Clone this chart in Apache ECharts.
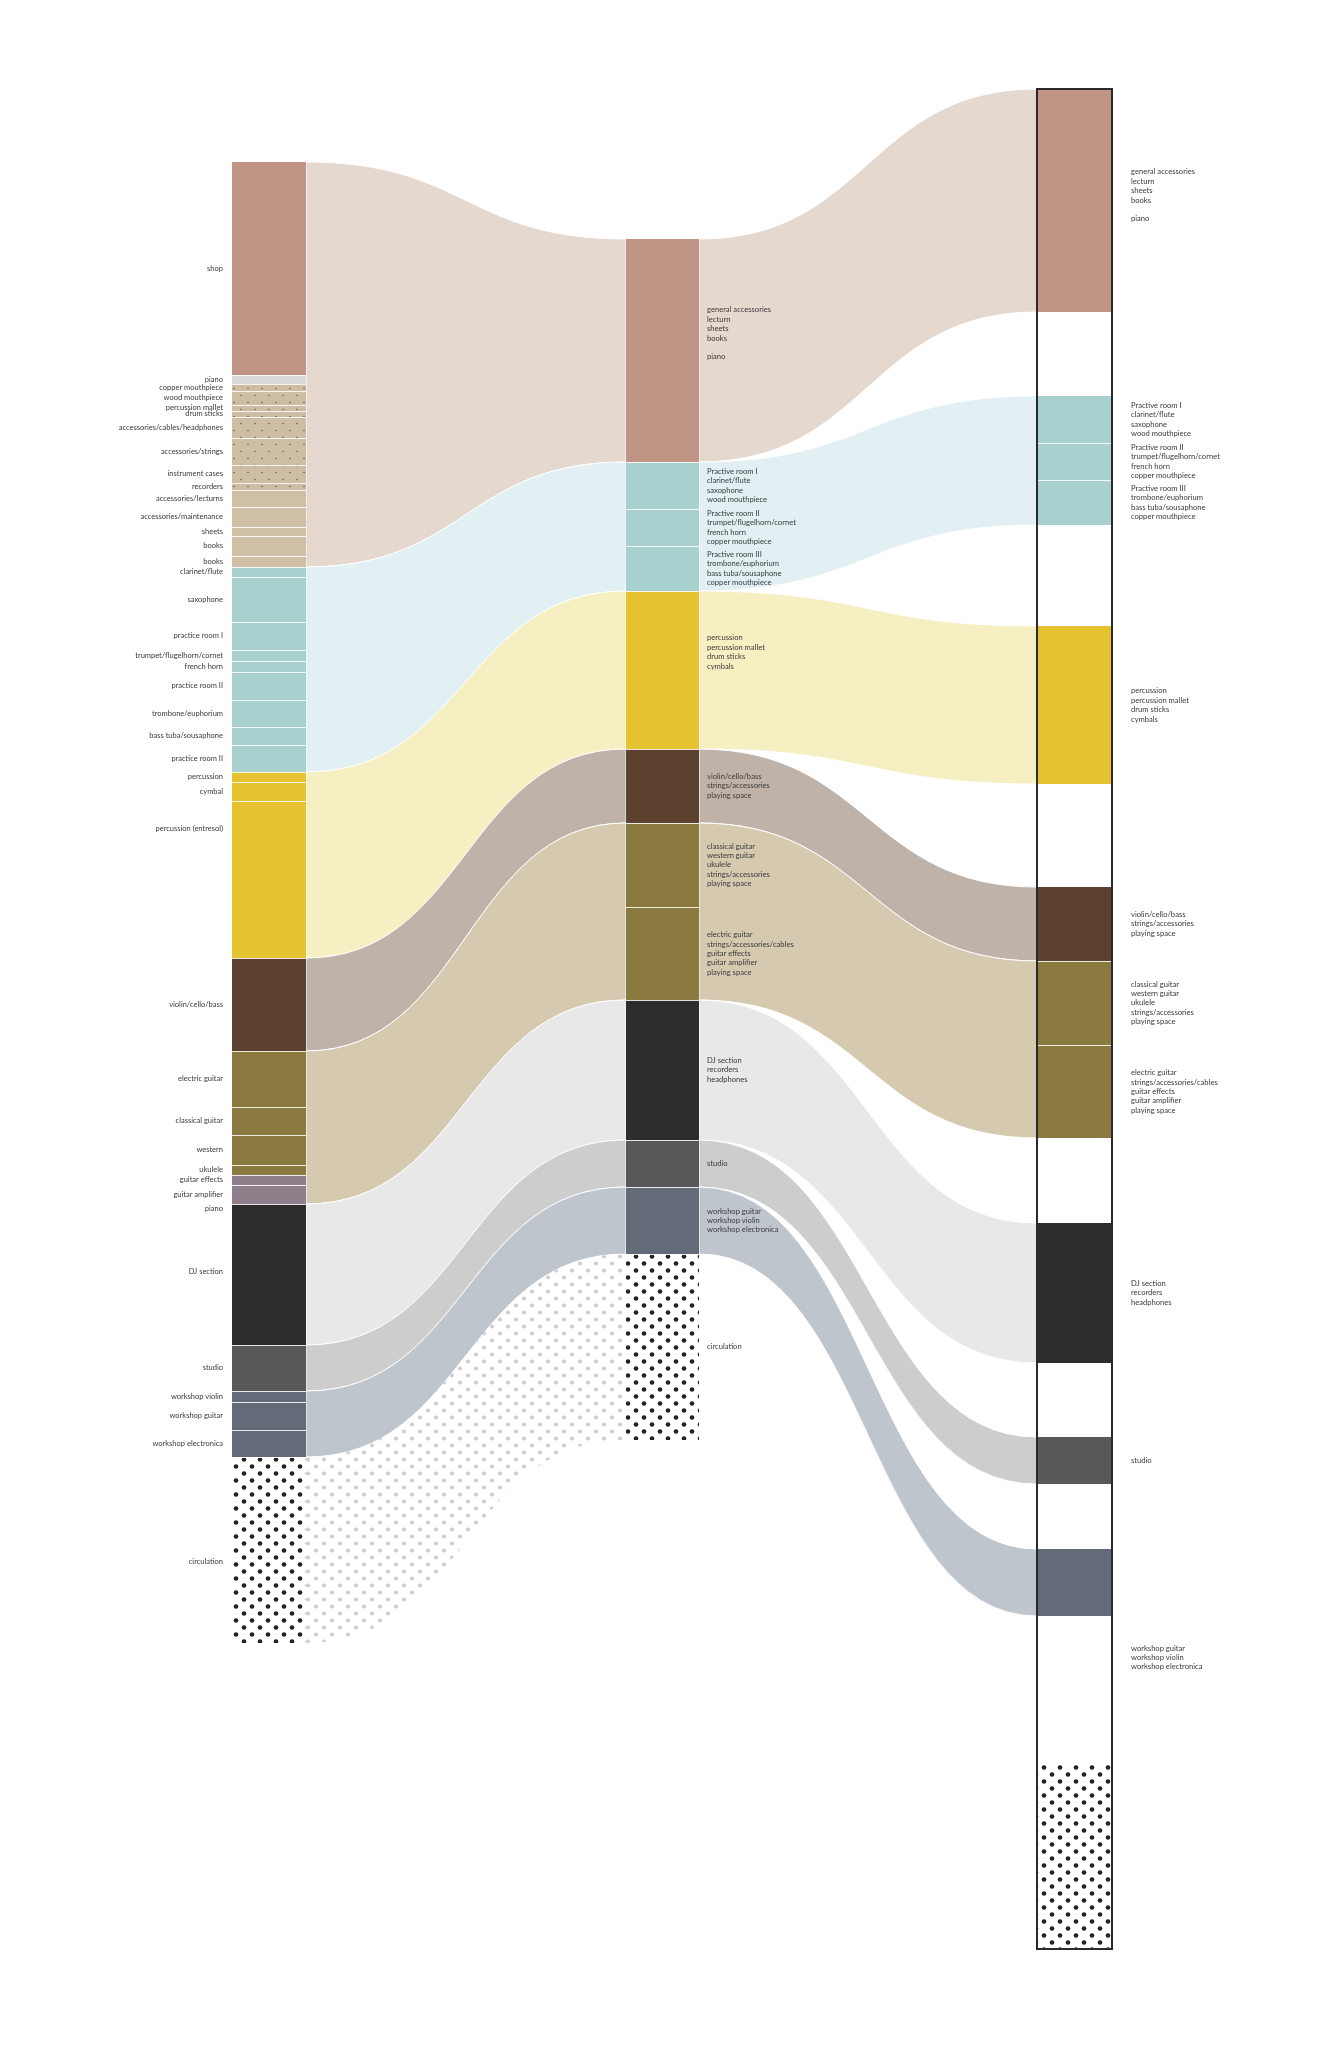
<!DOCTYPE html>
<html><head><meta charset="utf-8">
<script src="https://cdn.jsdelivr.net/npm/echarts/dist/echarts.min.js"></script>
<style>html,body{margin:0;padding:0;background:#fff}#c{width:1324px;height:2048px}</style>
</head><body><div id="c"></div>
<script>
// ---------------- DATA ----------------
const groupNames = ['shop','practice rooms','percussion','strings','guitar','DJ','studio','workshop','circulation'];

const leftNames = ['shop','piano','copper mouthpiece','wood mouthpiece','percussion mallet','drum sticks',
  'accessories/cables/headphones','accessories/strings','instrument cases','recorders','accessories/lecturns',
  'accessories/maintenance','sheets','books','books',
  'clarinet/flute','saxophone','practice room I','trumpet/flugelhorn/cornet','french horn','practice room II',
  'trombone/euphorium','bass tuba/sousaphone','practice room II',
  'percussion','cymbal','percussion (entresol)',
  'violin/cello/bass',
  'electric guitar','classical guitar','western','ukulele','guitar effects','guitar amplifier',
  'piano','DJ section',
  'studio',
  'workshop violin','workshop guitar','workshop electronica',
  'circulation'];
const leftValues = [213,9,7,14,6,6,21,27,18,7,17,20,9,20,11,
  10,45,28,11,11,28,27,18,27,
  10,19,157,
  93,
  56,28,30,10,10,19,
  9,132,
  46,
  11,28,27,
  186];
const leftGroupOf = [0,0,0,0,0,0,0,0,0,0,0,0,0,0,0,
  1,1,1,1,1,1,1,1,1,
  2,2,2,
  3,
  4,4,4,4,4,4,
  5,5,
  6,
  7,7,7,
  8];
const leftKinds = ['shop','piano','beigeDot','beigeDot','beigeDot','beigeDot','beigeDot','beigeDot','beigeDot','beigeDot',
  'beige','beige','beige','beige','beige',
  'teal','teal','teal','teal','teal','teal','teal','teal','teal',
  'yellow','yellow','yellow',
  'violin',
  'olive','olive','olive','olive','mauve','mauve',
  'dj','dj',
  'studio',
  'workshop','workshop','workshop',
  'circ'];

const midNames = [
  'general accessories\nlecturn\nsheets\nbooks\n\npiano',
  'Practive room I\nclarinet/flute\nsaxophone\nwood mouthpiece',
  'Practive room II\ntrumpet/flugelhorn/cornet\nfrench horn\ncopper mouthpiece',
  'Practive room III\ntrombone/euphorium\nbass tuba/sousaphone\ncopper mouthpiece',
  'percussion\npercussion mallet\ndrum sticks\ncymbals',
  'violin/cello/bass\nstrings/accessories\nplaying space',
  'classical guitar\nwestern guitar\nukulele\nstrings/accessories\nplaying space',
  'electric guitar\nstrings/accessories/cables\nguitar effects\nguitar amplifier\nplaying space',
  'DJ section\nrecorders\nheadphones',
  'studio',
  'workshop guitar\nworkshop violin\nworkshop electronica',
  'circulation'];
const midValues = [223,47,37,45,158,74,84,93,140,47,67,186];
const midGroupOf = [0,1,1,1,2,3,4,4,5,6,7,8];
const midKinds = ['shop','teal','teal','teal','yellow','violin','olive','olive','dj','studio','workshop','circ'];

const rightNames = [
  'general accessories\nlecturn\nsheets\nbooks\n\npiano',
  'Practive room I\nclarinet/flute\nsaxophone\nwood mouthpiece',
  'Practive room II\ntrumpet/flugelhorn/cornet\nfrench horn\ncopper mouthpiece',
  'Practive room III\ntrombone/euphorium\nbass tuba/sousaphone\ncopper mouthpiece',
  'percussion\npercussion mallet\ndrum sticks\ncymbals',
  'violin/cello/bass\nstrings/accessories\nplaying space',
  'classical guitar\nwestern guitar\nukulele\nstrings/accessories\nplaying space',
  'electric guitar\nstrings/accessories/cables\nguitar effects\nguitar amplifier\nplaying space',
  'DJ section\nrecorders\nheadphones',
  'studio',
  'workshop guitar\nworkshop violin\nworkshop electronica',
  ''];
const rightGapBefore = [0,84,101,103,0,85,74,65,147];   // empty space before each group in the right column
const linkedToRight = [1,1,1,1,1,1,1,1,0];

// ---------------- LAYOUT / STYLE ----------------
const L = {
  leftX: [232, 306], midX: [626, 699], rightX: [1037, 1112],
  leftTop: 162, midTop: 239, rightTop: 89,
  leftLabelX: 223, midLabelX: 707, rightLabelX: 1131
};
const leftLabelShift = leftNames.map((n, i) =>
  n === 'percussion (entresol)' ? -51 : (n === 'circulation' ? 12 : (n === 'DJ section' ? -7 : 0)));
const midLabelShift = [-17,0,0,0,-18,0,0,0,0,0,0,0];
const rightLabelShift = [-5,0,0,0,0,0,0,0,0,0,75,0];

function dotPattern(w, h, r, color, bg, pts) {
  const c = document.createElement('canvas'); c.width = w; c.height = h;
  const ctx = c.getContext('2d');
  if (bg) { ctx.fillStyle = bg; ctx.fillRect(0, 0, w, h); }
  ctx.fillStyle = color;
  pts.forEach(p => { ctx.beginPath(); ctx.arc(p[0], p[1], r, 0, Math.PI * 2); ctx.fill(); });
  return { image: c, repeat: 'repeat' };
}
const circFill = dotPattern(16, 14, 2.3, '#222222', '#ffffff', [[4, 3.5], [12, 10.5]]);
const circRibbonFill = dotPattern(16, 14, 2.0, '#cdcdcd', null, [[4, 3.5], [12, 10.5]]);
const beigeDotFill = dotPattern(14, 14, 0.75, '#5e5446', '#cdbea3', [[3, 3.5], [10, 10.5]]);

const KINDS = ['shop','piano','beigeDot','beige','teal','yellow','violin','olive','mauve','dj','studio','workshop','circ'];
const FILLS = {shop:'#c09585', piano:'#d9d9d9', beigeDot: beigeDotFill, beige:'#cfbfa5', teal:'#a8d0cf',
  yellow:'#e4c230', violin:'#5c412e', olive:'#8b7a3f', mauve:'#8e7f8a', dj:'#2d2d2d', studio:'#585858',
  workshop:'#646b78', circ: circFill};
const RIBBON_FILLS = ['#e5d8cf','#e2f0f3','#f6efc2','#bfb3a9','#d5cab0','#e8e8e8','#cdcdcd','#bfc5cc', circRibbonFill];

// ---------------- BUILD ----------------
function stack(values, top) {
  let y = top; return values.map(v => { const s = [y, y + v]; y += v; return s; });
}
const leftSeg = stack(leftValues, L.leftTop);
const midSeg = stack(midValues, L.midTop);
const rightSeg = [];
(function () {
  let y = L.rightTop, prevG = -1;
  midValues.forEach((v, i) => {
    const g = midGroupOf[i];
    if (g !== prevG) { y += rightGapBefore[g]; prevG = g; }
    rightSeg.push([y, y + v]); y += v;
  });
})();
function groupRange(seg, groupOf, g) {
  let a = Infinity, b = -Infinity;
  seg.forEach((s, i) => { if (groupOf[i] === g) { a = Math.min(a, s[0]); b = Math.max(b, s[1]); } });
  return [a, b];
}

const ribbonData = [];
groupNames.forEach((n, g) => {
  const lr = groupRange(leftSeg, leftGroupOf, g), mr = groupRange(midSeg, midGroupOf, g);
  ribbonData.push([L.leftX[1], lr[0], lr[1], L.midX[0], mr[0], mr[1], g]);
});
groupNames.forEach((n, g) => {
  if (!linkedToRight[g]) return;
  const mr = groupRange(midSeg, midGroupOf, g), rr = groupRange(rightSeg, midGroupOf, g);
  ribbonData.push([L.midX[1], mr[0], mr[1], L.rightX[0], rr[0], rr[1], g]);
});

const blockData = [];
leftSeg.forEach((s, i) => {
  const sep = i > 0 && !(leftKinds[i] === 'dj' && leftKinds[i - 1] === 'dj') ? 1 : 0;
  blockData.push([L.leftX[0], L.leftX[1], s[0], s[1], KINDS.indexOf(leftKinds[i]), sep]);
});
midSeg.forEach((s, i) => blockData.push([L.midX[0], L.midX[1], s[0], s[1], KINDS.indexOf(midKinds[i]), i > 0 ? 1 : 0]));
rightSeg.forEach((s, i) => {
  const sep = i > 0 && rightSeg[i - 1][1] === s[0] ? 1 : 0;
  blockData.push([L.rightX[0], L.rightX[1], s[0], s[1], KINDS.indexOf(midKinds[i]), sep]);
});

const labelData = [];
leftSeg.forEach((s, i) => labelData.push([L.leftLabelX, (s[0] + s[1]) / 2 + leftLabelShift[i], 0, i]));
midSeg.forEach((s, i) => labelData.push([L.midLabelX, (s[0] + s[1]) / 2 + midLabelShift[i], 1, i]));
rightSeg.forEach((s, i) => labelData.push([L.rightLabelX, (s[0] + s[1]) / 2 + rightLabelShift[i], 2, i]));

const boxData = [[L.rightX[0], L.rightX[1], L.rightTop, rightSeg[rightSeg.length - 1][1]]];

// ---------------- CHART ----------------
const chart = echarts.init(document.getElementById('c'), null, { renderer: 'canvas' });
chart.setOption({
  backgroundColor: '#ffffff',
  animation: false,
  grid: { left: 0, right: 0, top: 0, bottom: 0 },
  xAxis: { type: 'value', min: 0, max: 1324, show: false },
  yAxis: { type: 'value', min: 0, max: 2048, inverse: true, show: false },
  series: [
    {
      type: 'custom', clip: false, silent: true, data: ribbonData,
      renderItem(params, api) {
        const x0 = api.value(0), a0 = api.value(1), a1 = api.value(2), x1 = api.value(3), b0 = api.value(4), b1 = api.value(5), g = api.value(6);
        const p00 = api.coord([x0, a0]), p01 = api.coord([x0, a1]), p10 = api.coord([x1, b0]), p11 = api.coord([x1, b1]);
        const xm = (p00[0] + p10[0]) / 2;
        const d = 'M' + p00[0] + ',' + p00[1] + ' C' + xm + ',' + p00[1] + ' ' + xm + ',' + p10[1] + ' ' + p10[0] + ',' + p10[1] +
          ' L' + p11[0] + ',' + p11[1] + ' C' + xm + ',' + p11[1] + ' ' + xm + ',' + p01[1] + ' ' + p01[0] + ',' + p01[1] + ' Z';
        const isCirc = groupNames[g] === 'circulation';
        return { type: 'path', shape: { pathData: d },
          style: { fill: RIBBON_FILLS[g], stroke: isCirc ? null : '#ffffff', lineWidth: isCirc ? 0 : 1 } };
      }
    },
    {
      type: 'custom', clip: false, silent: true, data: blockData,
      renderItem(params, api) {
        const x0 = api.value(0), x1 = api.value(1), y0 = api.value(2), y1 = api.value(3), k = api.value(4), sep = api.value(5);
        const p0 = api.coord([x0, y0]), p1 = api.coord([x1, y1]);
        const children = [{ type: 'rect', shape: { x: p0[0], y: p0[1], width: p1[0] - p0[0], height: p1[1] - p0[1] },
          style: { fill: FILLS[KINDS[k]] } }];
        if (sep) children.push({ type: 'line', shape: { x1: p0[0], y1: p0[1] + 0.5, x2: p1[0], y2: p0[1] + 0.5 },
          style: { stroke: 'rgba(255,255,255,0.85)', lineWidth: 1 } });
        return { type: 'group', children };
      }
    },
    {
      type: 'custom', clip: false, silent: true, data: boxData,
      renderItem(params, api) {
        const p0 = api.coord([api.value(0), api.value(2)]), p1 = api.coord([api.value(1), api.value(3)]);
        return { type: 'rect', shape: { x: p0[0], y: p0[1], width: p1[0] - p0[0], height: p1[1] - p0[1] },
          style: { fill: null, stroke: '#2a2a2a', lineWidth: 2 } };
      }
    },
    {
      type: 'custom', clip: false, silent: true, data: labelData,
      renderItem(params, api) {
        const p = api.coord([api.value(0), api.value(1)]);
        const col = api.value(2), i = api.value(3);
        const text = col === 0 ? leftNames[i] : (col === 1 ? midNames[i] : rightNames[i]);
        return { type: 'text', style: { text: text, x: p[0], y: p[1], fill: '#3a3a3a',
          font: (col === 0 ? '7.5px' : '7.6px') + ' Lato, sans-serif', lineHeight: 9.4,
          align: col === 0 ? 'right' : 'left', verticalAlign: 'middle' } };
      }
    }
  ]
});
</script></body></html>
